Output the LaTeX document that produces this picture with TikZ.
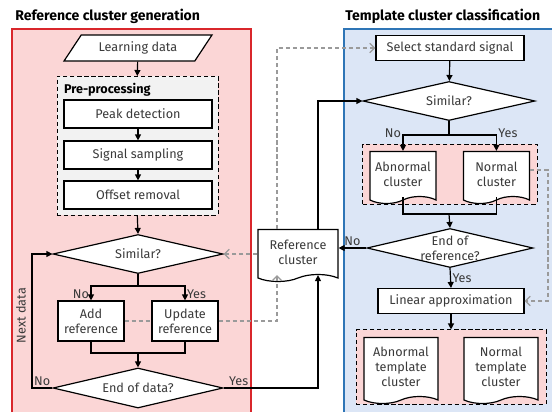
\documentclass[tikz,border=0pt]{standalone}
\usepackage{fontspec}
\setmainfont{Fira Sans}
\usetikzlibrary{arrows.meta, positioning, shapes.geometric, shapes.symbols, fit, backgrounds}
\definecolor{cred}{HTML}{D9262B}
\definecolor{cpink}{HTML}{FBD6D6}
\definecolor{cblue}{HTML}{2E75B6}
\definecolor{clight}{HTML}{DCE6F6}
\definecolor{cgrey}{HTML}{9A9A9A}
\definecolor{ctext}{HTML}{3A3A3A}
\definecolor{cpre}{HTML}{F2F2F2}
\tikzset{
  every picture/.style={font=\fontsize{9}{10.5}\selectfont, line width=0.85pt},
  box/.style={draw, fill=white, text=ctext, align=center, inner sep=2pt, minimum height=0.7cm, minimum width=#1},
  box/.default=3.7cm,
  decision/.style={draw, fill=white, diamond, aspect=4.3, inner sep=0pt, text=ctext, align=center, minimum width=4.25cm, minimum height=0.975cm},
  doc/.style={draw, fill=white, tape, tape bend top=none, tape bend height=5pt, text=ctext, align=center, inner sep=2pt, minimum width=#1},
  doc/.default=1.65cm,
  arrow/.style={-{Triangle[length=1.5mm, width=1.5mm]}},
  feedback/.style={densely dashed, draw=cgrey, -{Straight Barb[length=1.2mm, width=2.4mm]}},
  group/.style={draw, densely dashed, fill=#1},
  title/.style={font=\fontsize{10}{12}\selectfont\bfseries, anchor=west},
  note/.style={text=ctext, inner sep=1pt},
}

\begin{document}
\begin{tikzpicture}
  \useasboundingbox (0,0) rectangle (13.8,-10.3);
  \node[title] (ltitle) at (0.25,-0.4) {Reference cluster generation};
  \node[title] (rtitle) at (8.5,-0.4) {Template cluster classification};

  % reference cluster generation
  \node[box, trapezium, trapezium left angle=55, trapezium right angle=125, trapezium stretches=true, minimum height=0.65cm] (learn) at (3.45,-1.2) {Learning data};
  \node[anchor=west, inner sep=1pt, font=\fontsize{9}{10.5}\selectfont\bfseries] (prelbl) at (1.55,-2.25) {Pre-processing};
  \node[box] (peak) at (3.45,-2.85) {Peak detection};
  \node[box] (sampling) at (3.45,-3.875) {Signal sampling};
  \node[box] (offset) at (3.45,-4.875) {Offset removal};
  \node[decision] (sim1) at (3.45,-6.35) {Similar?};
  \node[box=1.65cm, minimum height=1cm] (add) at (2.275,-8.025) {Add\\reference};
  \node[box=1.65cm, minimum height=1cm] (upd) at (4.625,-8.025) {Update\\reference};
  \node[decision, minimum height=1cm] (end1) at (3.45,-9.7) {End of data?};
  \node[doc=2cm, minimum height=1.3cm] (ref) at (7.45,-6.3) {Reference\\cluster};

  % template cluster classification
  \node[box, minimum height=0.625cm] (sel) at (11.25,-1.2) {Select standard signal};
  \node[decision, minimum width=4.3cm] (sim2) at (11.225,-2.525) {Similar?};
  \node[doc, minimum height=1.3cm] (abn) at (10.075,-4.35) {Abnormal\\cluster};
  \node[doc, minimum height=1.3cm] (nor) at (12.41,-4.35) {Normal\\cluster};
  \node[decision, minimum width=4.15cm, label={[note, align=center]center:End of\\reference?}] (end2) at (11.25,-6.2) {};
  \node[box=3.65cm, minimum height=0.625cm] (lin) at (11.275,-7.525) {Linear approximation};
  \node[doc=1.85cm, minimum height=1.65cm] (abnt) at (10.025,-9.175) {Abnormal\\template\\cluster};
  \node[doc=1.85cm, minimum height=1.65cm] (normt) at (12.525,-9.175) {Normal\\template\\cluster};

  \begin{scope}[on background layer]
    \fill[cpink] (0.3,-0.725) rectangle (6.275,-10.3);
    \draw[cred, line width=1pt] (0.3,-10.3) |- (6.275,-0.725) -- (6.275,-10.3);
    \fill[clight] (8.6,-0.725) rectangle (13.8,-10.3);
    \draw[cblue, line width=1pt] (8.6,-10.3) |- (13.9,-0.725);
    \node[group=cpre, fit=(prelbl)(peak)(offset), inner sep=0.13cm] (pre) {};
    \node[group=cpink, fit=(abn)(nor), inner sep=0.17cm] (grp1) {};
    \node[group=cpink, fit=(abnt)(normt), inner sep=0.18cm] (grp2) {};
  \end{scope}

  \coordinate (split1) at (3.45,-7.15);
  \coordinate (join1) at (3.45,-8.825);
  \coordinate (back) at (0.8,-9.7);
  \coordinate (yes1) at (7.95,-9.7);
  \coordinate (fbx) at (6.925,-1.2);
  \coordinate (split2) at (11.225,-3.375);
  \coordinate (join2) at (11.225,-5.35);
  \coordinate (fb2) at (13.7,-4.25);

  \draw[arrow] (learn) -- (pre.north);
  \draw[arrow] (peak) -- (sampling); \draw[arrow] (sampling) -- (offset);
  \draw[arrow] (pre.south) -- (sim1.north);
  \draw (sim1.south) -- (split1);
  \draw[arrow] (split1) -| node[note, pos=0.8, left] {No} (add.north);
  \draw[arrow] (split1) -| node[note, pos=0.8, right] {Yes} (upd.north);
  \draw (add.south) |- (join1) -| (upd.south);
  \draw[arrow] (join1) -- (end1.north);
  \draw[arrow] (end1.west) -- node[note, above] {No} (back) |- node[note, pos=0.27, sloped, above=3pt] {Next data} (sim1.west);
  \draw[arrow] (end1.east) -- node[note, above, pos=0.16] {Yes} (yes1) -- (yes1 |- ref.south);
  \draw[arrow] (yes1 |- ref.north) |- (sim2.west);
  \draw[feedback] (sim1.east -| ref.west) -- (sim1.east);
  \draw[feedback] (fbx |- ref.north) |- (sel.west);
  \draw[densely dashed, cgrey] (add.east) -- (upd.west);
  \draw[feedback] (upd.east) -| (fbx |- ref.south);

  \draw[arrow] (sel) -- (sim2);
  \draw (sim2.south) -- (split2);
  \draw[arrow] (split2) -| node[note, pos=0.5, left, yshift=1pt] {No} (abn.north);
  \draw[arrow] (split2) -| node[note, pos=0.5, right, yshift=1pt] {Yes} (nor.north);
  \draw (abn.south) |- (join2) -| (nor.south);
  \draw[arrow] (join2) -- (end2.north);
  \draw[arrow] (end2.west) -- node[note, above] {No} (end2.west -| ref.east);
  \draw[arrow] (end2.south) -- node[note, right] {Yes} (lin.north);
  \draw[feedback] (nor.east |- fb2) -- (fb2) |- (lin.east);
  \draw[arrow] (lin) -- (grp2.north);
\end{tikzpicture}
\end{document}
